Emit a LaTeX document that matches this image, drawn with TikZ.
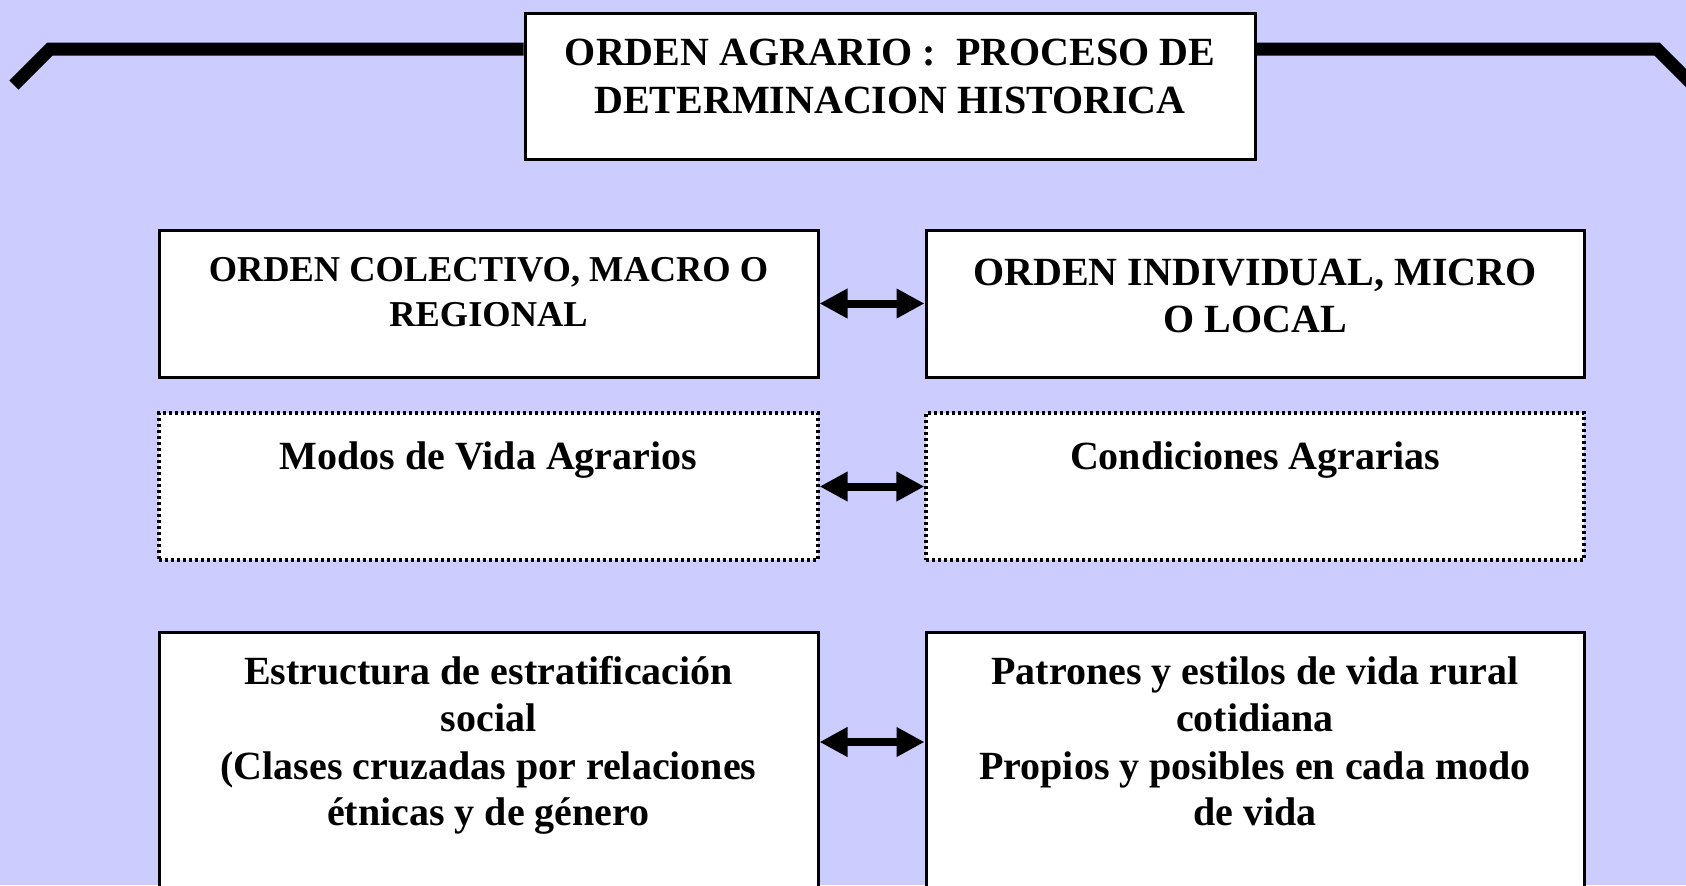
\documentclass[tikz,border=0pt]{standalone}
\usepackage{fontspec}
\setmainfont{Liberation Serif}
\usetikzlibrary{arrows.meta}
\definecolor{bg}{RGB}{204,204,255}
\begin{document}
\begin{tikzpicture}[x=0.5pt,y=-0.5pt,
  box/.style={draw=black, line width=1.5pt, fill=white, inner sep=0pt},
  dotbox/.style={draw=black, line width=1.6pt, dash pattern=on 1.6pt off 1.4pt, fill=white, inner sep=0pt},
  txt/.style={anchor=base, inner sep=0pt, font=\bfseries\fontsize{20}{24}\selectfont},
  txtsm/.style={anchor=base, inner sep=0pt, font=\bfseries\fontsize{18.2}{22}\selectfont},
  dbl/.style={line width=4pt, {Triangle[length=14pt,width=14pt]}-{Triangle[length=14pt,width=14pt]}},
  rulestyle/.style={line width=6.5pt}
]
\clip (0,0) rectangle (1686,885);
\fill[bg] (0,0) rectangle (1686,885);

% title
\node[box, minimum width=365pt, minimum height=73pt] (titlebox) at (890,86) {};
\draw[rulestyle] (titlebox.west |- 0,49) -- (50,49) -- (14,85);
\draw[rulestyle] (titlebox.east |- 0,49) -- (1657,49) -- (1700,92);
\node[txt] (t1) at (890,65) {ORDEN AGRARIO :~ PROCESO DE};
\node[txt] (t2) at (890,113) {DETERMINACION HISTORICA};

% row 1
\node[box, minimum width=329.5pt, minimum height=73.5pt] (l1) at (488.5,303.5) {};
\node[box, minimum width=329pt, minimum height=73.5pt] (r1) at (1255,303.5) {};
\node[txtsm] (l1a) at (488.5,281) {ORDEN COLECTIVO, MACRO O};
\node[txtsm] (l1b) at (488.5,326) {REGIONAL};
\node[txt] (r1a) at (1255,285) {ORDEN INDIVIDUAL, MICRO};
\node[txt] (r1b) at (1255,332) {O LOCAL};
\draw[dbl] (l1.east) -- (r1.west);

% row 2
\node[dotbox, minimum width=329.5pt, minimum height=73.5pt] (l2) at (488.5,486.5) {};
\node[dotbox, minimum width=329pt, minimum height=73.5pt] (r2) at (1255,486.5) {};
\node[txt] (l2a) at (488.5,469) {Modos de Vida Agrarios};
\node[txt] (r2a) at (1255,469) {Condiciones Agrarias};
\draw[dbl] (l2.east) -- (r2.west);

% row 3
\node[box, minimum width=329.5pt, minimum height=134pt] (l3) at (488.5,766) {};
\node[box, minimum width=329pt, minimum height=134pt] (r3) at (1255,766) {};
\node[txt] (l3a) at (488.5,684) {Estructura de estratificación};
\node[txt] (l3b) at (488.5,731) {social};
\node[txt] (l3c) at (488.5,779) {(Clases cruzadas por relaciones};
\node[txt] (l3d) at (488.5,825) {étnicas y de género};
\node[txt] (r3a) at (1255,684) {Patrones y estilos de vida rural};
\node[txt] (r3b) at (1255,731) {cotidiana};
\node[txt] (r3c) at (1255,779) {Propios y posibles en cada modo};
\node[txt] (r3d) at (1255,825) {de vida};
\draw[dbl] (l3.east |- 0,742) -- (r3.west |- 0,742);
\end{tikzpicture}
\end{document}
